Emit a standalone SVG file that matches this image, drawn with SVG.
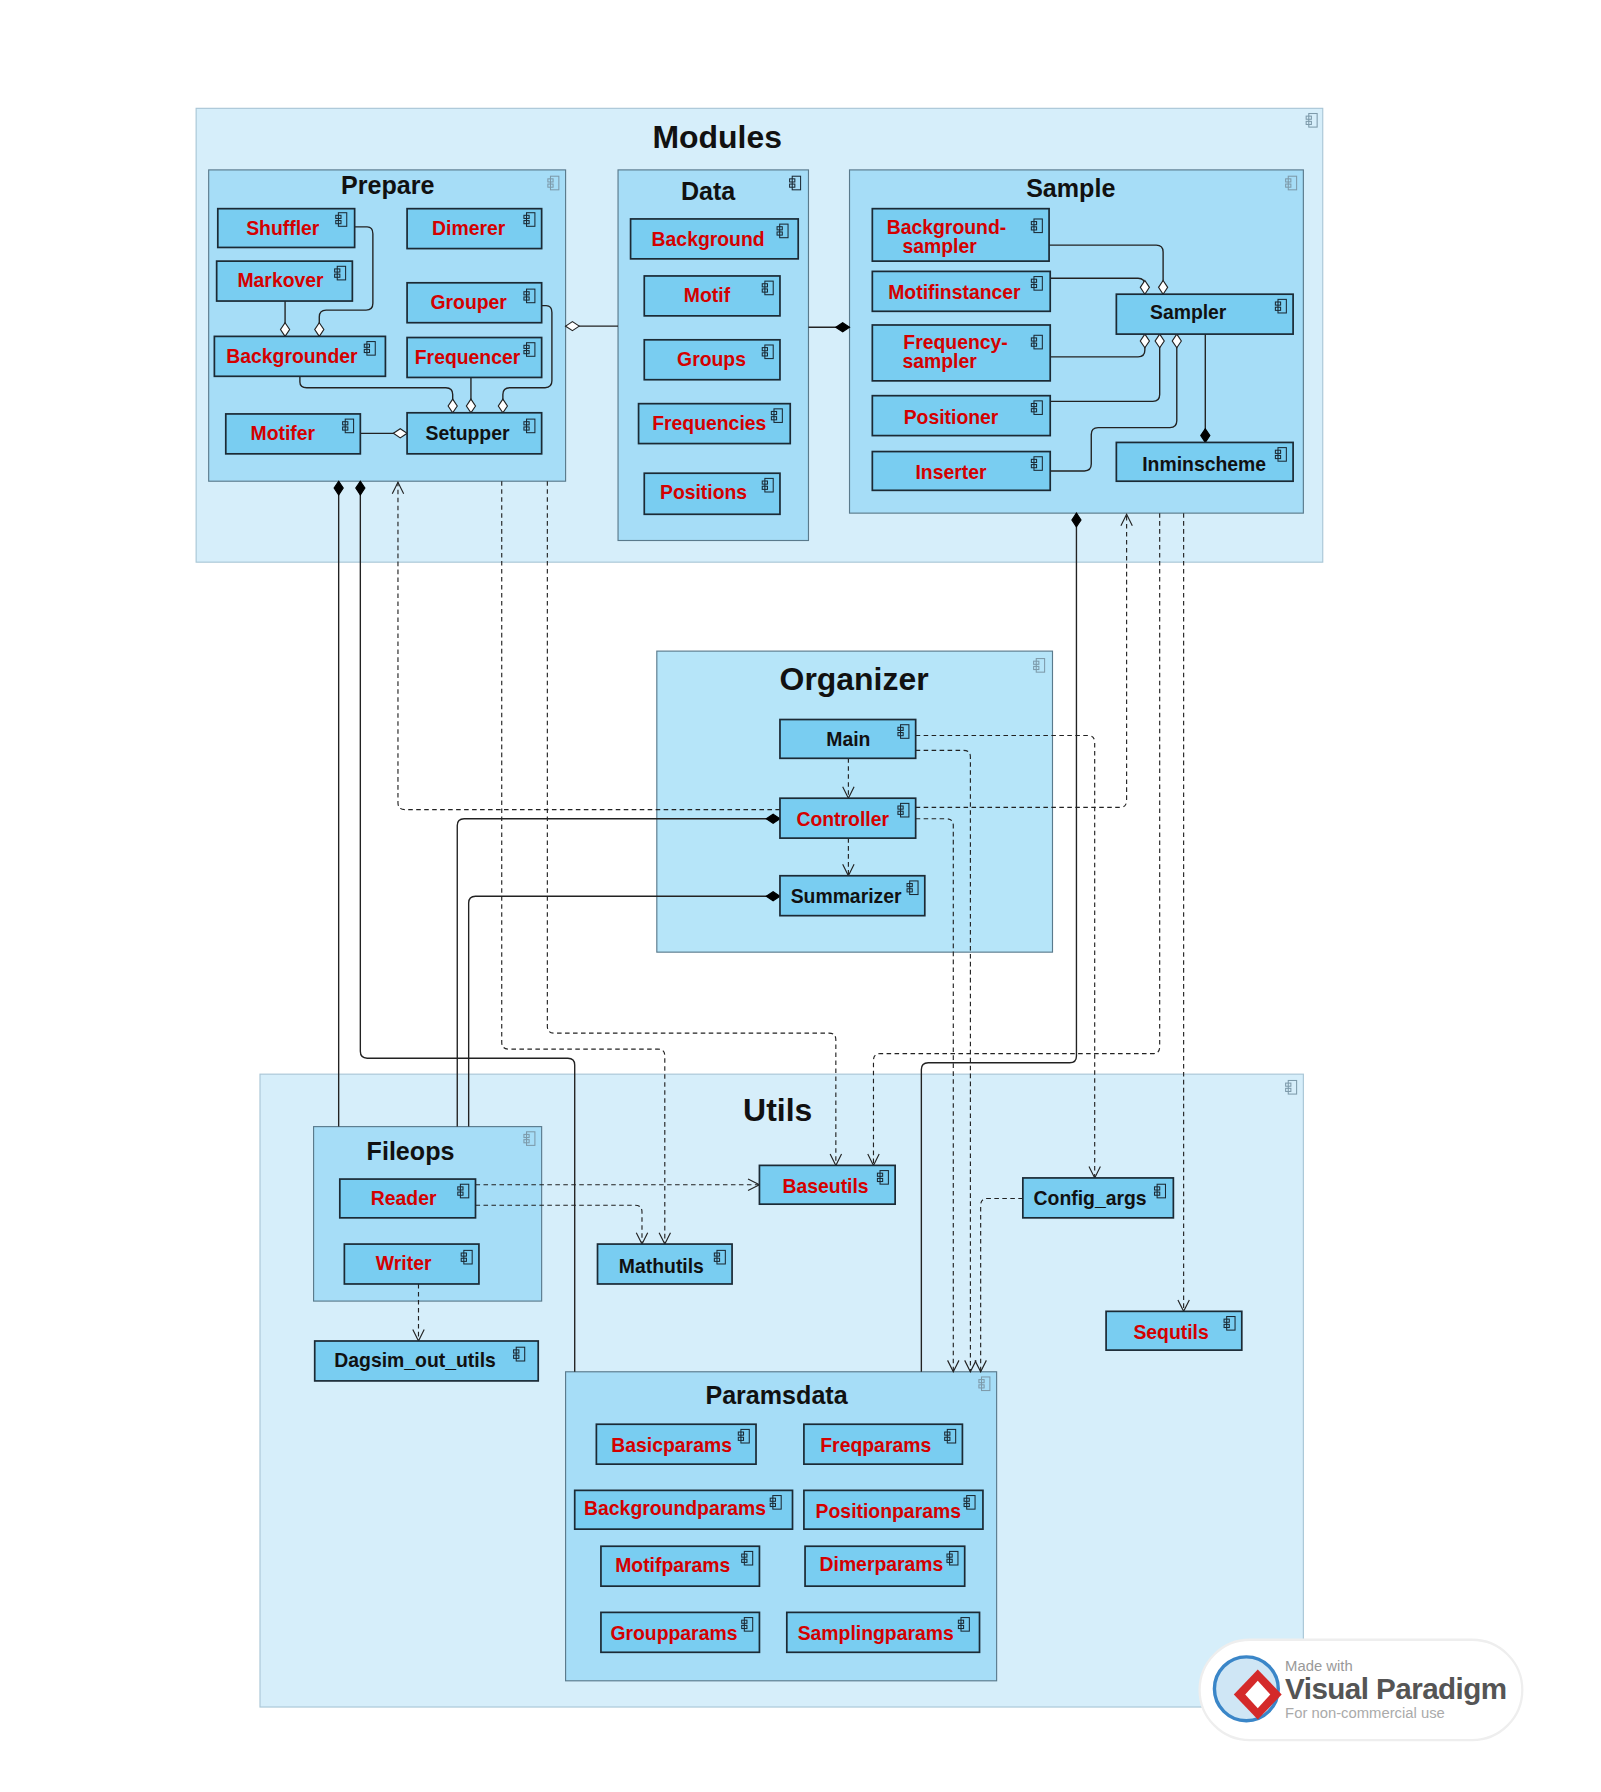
<svg xmlns="http://www.w3.org/2000/svg" width="1601" height="1792" viewBox="0 0 1601 1792">
<style>
.cont{fill:#d6eefa;stroke:#a9c6d6;stroke-width:1}
.pkg{fill:#a6ddf7;stroke:#5a7a8c;stroke-width:1}
.org{fill:#b6e5f9;stroke:#5a7a8c;stroke-width:1}
.n{fill:#79cdf1;stroke:#1b2a35;stroke-width:1.5}
.t{font-family:"Liberation Sans",Arial,sans-serif;font-weight:bold;font-size:17px;text-anchor:middle}
.r{fill:#d40000}
.k{fill:#111}
.h{font-family:"Liberation Sans",Arial,sans-serif;font-weight:bold;text-anchor:middle;fill:#111}
.c{fill:none;stroke:#222;stroke-width:1.2}
.d{fill:none;stroke:#222;stroke-width:1;stroke-dasharray:4,3}
.ic{fill:none;stroke:#1b2a35;stroke-width:1}
.icg{fill:none;stroke:#7d9aaa;stroke-width:1}
</style>
<defs>
<symbol id="i" viewBox="0 0 12 14" overflow="visible"><rect x="3" y="0.5" width="8" height="13" class="ic"/><rect x="0.5" y="3" width="5" height="3" class="ic" fill="#79cdf1"/><rect x="0.5" y="8" width="5" height="3" class="ic" fill="#79cdf1"/></symbol>
<symbol id="ig" viewBox="0 0 12 14" overflow="visible"><rect x="3" y="0.5" width="8" height="13" class="icg"/><rect x="0.5" y="3" width="5" height="3" class="icg"/><rect x="0.5" y="8" width="5" height="3" class="icg"/></symbol>
<marker id="hd" markerUnits="userSpaceOnUse" markerWidth="14" markerHeight="10" refX="13" refY="5" orient="auto"><path d="M1,5 L7,1 L13,5 L7,9 Z" fill="#fff" stroke="#222" stroke-width="1"/></marker>
<marker id="fd" markerUnits="userSpaceOnUse" markerWidth="14" markerHeight="10" refX="13" refY="5" orient="auto"><path d="M1,5 L7,1 L13,5 L7,9 Z" fill="#000" stroke="#000" stroke-width="1"/></marker>
<marker id="ar" markerUnits="userSpaceOnUse" markerWidth="12" markerHeight="12" refX="11" refY="6" orient="auto"><path d="M1,1 L11,6 L1,11" fill="none" stroke="#222" stroke-width="1"/></marker>
</defs>
<rect width="1601" height="1792" fill="#fff"/>
<g transform="scale(1.1403)">
<g id="modules"><rect class="cont" x="172" y="95" width="988" height="398"/><text class="h" x="629" y="130" font-size="28">Modules</text><use href="#ig" x="1145" y="99" width="11" height="13"/></g>
<g id="utils"><rect class="cont" x="228" y="942" width="915" height="555"/><text class="h" x="682" y="983" font-size="28">Utils</text><use href="#ig" x="1127" y="947" width="11" height="13"/></g>
<g id="prepare"><rect class="pkg" x="183" y="149" width="313" height="273"/><text class="h" x="340" y="170" font-size="22">Prepare</text><use href="#ig" x="480" y="154" width="11" height="13"/></g>
<g id="data"><rect class="pkg" x="542" y="149" width="167" height="325"/><text class="h" x="621" y="175" font-size="22">Data</text><use href="#i" x="692" y="154" width="11" height="13"/></g>
<g id="sample"><rect class="pkg" x="745" y="149" width="398" height="301"/><text class="h" x="939" y="173" font-size="22">Sample</text><use href="#ig" x="1127" y="154" width="11" height="13"/></g>
<g id="organizer"><rect class="org" x="576" y="571" width="347" height="264"/><text class="h" x="749" y="605" font-size="28">Organizer</text><use href="#ig" x="906" y="577" width="11" height="13"/></g>
<g id="fileops"><rect class="pkg" x="275" y="988" width="200" height="153"/><text class="h" x="360" y="1017" font-size="22">Fileops</text><use href="#ig" x="459" y="992" width="11" height="13"/></g>
<g id="paramsdata"><rect class="pkg" x="496" y="1203" width="378" height="271"/><text class="h" x="681" y="1231" font-size="22">Paramsdata</text><use href="#ig" x="858" y="1207" width="11" height="13"/></g>

<g id="connectors">
<path class="c" d="M311,199 H322 Q327,199 327,205 V266 Q327,272 321,272 H286 Q280,272 280,278 V295" marker-end="url(#hd)"/>
<path class="c" d="M250,264 V295" marker-end="url(#hd)"/>
<path class="c" d="M263,330 V335 Q263,340 269,340 H391 Q397,340 397,346 V362" marker-end="url(#hd)"/>
<path class="c" d="M413,331 V362" marker-end="url(#hd)"/>
<path class="c" d="M475,268 H479 Q484,268 484,274 V334 Q484,340 478,340 H447 Q441,340 441,346 V362" marker-end="url(#hd)"/>
<path class="c" d="M316,380 H357" marker-end="url(#hd)"/>
<path class="c" d="M542,286 H496" marker-end="url(#hd)"/>
<path class="c" d="M709,287 H745" marker-end="url(#fd)"/>
<path class="c" d="M920,215 H1014 Q1020,215 1020,221 V258" marker-end="url(#hd)"/>
<path class="c" d="M921,244 H998 Q1004,244 1004,250 V258" marker-end="url(#hd)"/>
<path class="c" d="M921,313 H998 Q1004,313 1004,307 V293" marker-end="url(#hd)"/>
<path class="c" d="M921,352 H1011 Q1017,352 1017,346 V293" marker-end="url(#hd)"/>
<path class="c" d="M921,413 H951 Q957,413 957,407 V381 Q957,375 963,375 H1026 Q1032,375 1032,369 V293" marker-end="url(#hd)"/>
<path class="c" d="M1057,293 V388" marker-end="url(#fd)"/>
<path class="c" d="M297,988 V422" marker-end="url(#fd)"/>
<path class="c" d="M504,1203 V934 Q504,928 498,928 H322 Q316,928 316,922 V422" marker-end="url(#fd)"/>
<path class="c" d="M808,1203 V938 Q808,932 814,932 H938 Q944,932 944,926 V450" marker-end="url(#fd)"/>
<path class="c" d="M401,988 V724 Q401,718 407,718 H684" marker-end="url(#fd)"/>
<path class="c" d="M411,988 V792 Q411,786 417,786 H684" marker-end="url(#fd)"/>
<path class="d" d="M684,710 H355 Q349,710 349,704 V423" marker-end="url(#ar)"/>
<path class="d" d="M803,708 H982 Q988,708 988,702 V451" marker-end="url(#ar)"/>
<path class="d" d="M744,665 V700" marker-end="url(#ar)"/>
<path class="d" d="M744,735 V768" marker-end="url(#ar)"/>
<path class="d" d="M803,645 H954 Q960,645 960,651 V1033" marker-end="url(#ar)"/>
<path class="d" d="M803,658 H845 Q851,658 851,664 V1203" marker-end="url(#ar)"/>
<path class="d" d="M803,718 H830 Q836,718 836,724 V1203" marker-end="url(#ar)"/>
<path class="d" d="M440,422 V914 Q440,920 446,920 H577 Q583,920 583,926 V1091" marker-end="url(#ar)"/>
<path class="d" d="M480,422 V900 Q480,906 486,906 H727 Q733,906 733,912 V1022" marker-end="url(#ar)"/>
<path class="d" d="M1017,450 V918 Q1017,924 1011,924 H772 Q766,924 766,930 V1022" marker-end="url(#ar)"/>
<path class="d" d="M1038,450 V1150" marker-end="url(#ar)"/>
<path class="d" d="M897,1051 H866 Q860,1051 860,1057 V1203" marker-end="url(#ar)"/>
<path class="d" d="M417,1039 H666" marker-end="url(#ar)"/>
<path class="d" d="M417,1057 H557 Q563,1057 563,1063 V1091" marker-end="url(#ar)"/>
<path class="d" d="M367,1126 V1176" marker-end="url(#ar)"/>
</g>

<g id="shuffler"><rect class="n" x="191" y="183" width="120" height="34"/><text class="t r" x="248" y="206">Shuffler</text><use href="#i" x="294" y="186" width="11" height="13"/></g>
<g id="dimerer"><rect class="n" x="357" y="183" width="118" height="35"/><text class="t r" x="411" y="206">Dimerer</text><use href="#i" x="459" y="186" width="11" height="13"/></g>
<g id="markover"><rect class="n" x="190" y="229" width="119" height="35"/><text class="t r" x="246" y="252">Markover</text><use href="#i" x="293" y="233" width="11" height="13"/></g>
<g id="grouper"><rect class="n" x="357" y="248" width="118" height="35"/><text class="t r" x="411" y="271">Grouper</text><use href="#i" x="459" y="253" width="11" height="13"/></g>
<g id="backgrounder"><rect class="n" x="188" y="295" width="150" height="35"/><text class="t r" x="256" y="318">Backgrounder</text><use href="#i" x="319" y="299" width="11" height="13"/></g>
<g id="frequencer"><rect class="n" x="357" y="296" width="118" height="35"/><text class="t r" x="410" y="319">Frequencer</text><use href="#i" x="459" y="300" width="11" height="13"/></g>
<g id="motifer"><rect class="n" x="198" y="363" width="118" height="35"/><text class="t r" x="248" y="386">Motifer</text><use href="#i" x="300" y="367" width="11" height="13"/></g>
<g id="setupper"><rect class="n" x="357" y="362" width="118" height="36"/><text class="t k" x="410" y="386">Setupper</text><use href="#i" x="459" y="367" width="11" height="13"/></g>

<g id="background"><rect class="n" x="553" y="192" width="147" height="35"/><text class="t r" x="621" y="216">Background</text><use href="#i" x="681" y="196" width="11" height="13"/></g>
<g id="motif"><rect class="n" x="565" y="242" width="119" height="35"/><text class="t r" x="620" y="265">Motif</text><use href="#i" x="668" y="246" width="11" height="13"/></g>
<g id="groups"><rect class="n" x="565" y="298" width="119" height="35"/><text class="t r" x="624" y="321">Groups</text><use href="#i" x="668" y="302" width="11" height="13"/></g>
<g id="frequencies"><rect class="n" x="560" y="354" width="133" height="35"/><text class="t r" x="622" y="377">Frequencies</text><use href="#i" x="676" y="358" width="11" height="13"/></g>
<g id="positions"><rect class="n" x="565" y="415" width="119" height="36"/><text class="t r" x="617" y="438">Positions</text><use href="#i" x="668" y="419" width="11" height="13"/></g>

<g id="backgroundsampler"><rect class="n" x="765" y="183" width="155" height="46"/><text class="t r" x="830" y="205">Background-</text><text class="t r" x="824" y="222">sampler</text><use href="#i" x="904" y="190" width="11" height="16"/></g>
<g id="motifinstancer"><rect class="n" x="765" y="238" width="156" height="35"/><text class="t r" x="837" y="262">Motifinstancer</text><use href="#i" x="904" y="242" width="11" height="13"/></g>
<g id="sampler"><rect class="n" x="979" y="258" width="155" height="35"/><text class="t k" x="1042" y="280">Sampler</text><use href="#i" x="1118" y="262" width="11" height="13"/></g>
<g id="frequencysampler"><rect class="n" x="765" y="285" width="156" height="49"/><text class="t r" x="838" y="306">Frequency-</text><text class="t r" x="824" y="323">sampler</text><use href="#i" x="904" y="292" width="11" height="16"/></g>
<g id="positioner"><rect class="n" x="765" y="347" width="156" height="35"/><text class="t r" x="834" y="372">Positioner</text><use href="#i" x="904" y="351" width="11" height="13"/></g>
<g id="inserter"><rect class="n" x="765" y="396" width="156" height="34"/><text class="t r" x="834" y="420">Inserter</text><use href="#i" x="904" y="400" width="11" height="13"/></g>
<g id="inminscheme"><rect class="n" x="979" y="388" width="155" height="34"/><text class="t k" x="1056" y="413">Inminscheme</text><use href="#i" x="1118" y="392" width="11" height="13"/></g>

<g id="main"><rect class="n" x="684" y="631" width="119" height="34"/><text class="t k" x="744" y="654">Main</text><use href="#i" x="787" y="635" width="11" height="13"/></g>
<g id="controller"><rect class="n" x="684" y="700" width="119" height="35"/><text class="t r" x="739" y="724">Controller</text><use href="#i" x="787" y="704" width="11" height="13"/></g>
<g id="summarizer"><rect class="n" x="684" y="768" width="127" height="35"/><text class="t k" x="742" y="792">Summarizer</text><use href="#i" x="795" y="772" width="11" height="13"/></g>

<g id="reader"><rect class="n" x="298" y="1034" width="119" height="34"/><text class="t r" x="354" y="1057">Reader</text><use href="#i" x="401" y="1038" width="11" height="13"/></g>
<g id="writer"><rect class="n" x="302" y="1091" width="118" height="35"/><text class="t r" x="354" y="1114">Writer</text><use href="#i" x="404" y="1096" width="11" height="13"/></g>
<g id="dagsim"><rect class="n" x="276" y="1176" width="196" height="35"/><text class="t k" x="364" y="1199">Dagsim_out_utils</text><use href="#i" x="447" y="1181" width="17" height="13"/></g>
<g id="mathutils"><rect class="n" x="524" y="1091" width="118" height="35"/><text class="t k" x="580" y="1116">Mathutils</text><use href="#i" x="626" y="1096" width="11" height="13"/></g>
<g id="baseutils"><rect class="n" x="666" y="1022" width="119" height="34"/><text class="t r" x="724" y="1046">Baseutils</text><use href="#i" x="769" y="1026" width="11" height="13"/></g>
<g id="configargs"><rect class="n" x="897" y="1033" width="132" height="35"/><text class="t k" x="956" y="1057">Config_args</text><use href="#i" x="1012" y="1038" width="11" height="13"/></g>
<g id="sequtils"><rect class="n" x="970" y="1150" width="119" height="34"/><text class="t r" x="1027" y="1174">Sequtils</text><use href="#i" x="1073" y="1154" width="11" height="13"/></g>

<g id="basicparams"><rect class="n" x="523" y="1249" width="140" height="35"/><text class="t r" x="589" y="1273">Basicparams</text><use href="#i" x="647" y="1253" width="11" height="13"/></g>
<g id="freqparams"><rect class="n" x="705" y="1249" width="139" height="35"/><text class="t r" x="768" y="1273">Freqparams</text><use href="#i" x="828" y="1253" width="11" height="13"/></g>
<g id="backgroundparams"><rect class="n" x="504" y="1307" width="191" height="34"/><text class="t r" x="592" y="1329">Backgroundparams</text><use href="#i" x="675" y="1311" width="11" height="13"/></g>
<g id="positionparams"><rect class="n" x="705" y="1307" width="157" height="34"/><text class="t r" x="779" y="1331">Positionparams</text><use href="#i" x="845" y="1311" width="11" height="13"/></g>
<g id="motifparams"><rect class="n" x="527" y="1356" width="139" height="35"/><text class="t r" x="590" y="1379">Motifparams</text><use href="#i" x="650" y="1360" width="11" height="13"/></g>
<g id="dimerparams"><rect class="n" x="706" y="1356" width="140" height="35"/><text class="t r" x="773" y="1378">Dimerparams</text><use href="#i" x="830" y="1360" width="11" height="13"/></g>
<g id="groupparams"><rect class="n" x="527" y="1414" width="139" height="35"/><text class="t r" x="591" y="1438">Groupparams</text><use href="#i" x="650" y="1418" width="11" height="13"/></g>
<g id="samplingparams"><rect class="n" x="690" y="1414" width="169" height="35"/><text class="t r" x="768" y="1438">Samplingparams</text><use href="#i" x="840" y="1418" width="11" height="13"/></g>

<g id="watermark">
<rect x="1052" y="1438" width="283" height="88" rx="44" fill="#fff" stroke="#eee" stroke-width="2"/>
<circle cx="1093" cy="1481" r="28" fill="#cfe6f5" stroke="#3a86c8" stroke-width="3"/>
<path d="M1103,1464 L1124,1486 L1103,1508 L1082,1486 Z" fill="#d42a2a"/>
<path d="M1103,1474 L1114,1486 L1103,1498 L1092,1486 Z" fill="#fff"/>
<text x="1127" y="1465" font-family="Liberation Sans,Arial,sans-serif" font-size="13" fill="#999">Made with</text>
<text x="1127" y="1490" font-family="Liberation Sans,Arial,sans-serif" font-size="26" font-weight="bold" fill="#555" letter-spacing="-0.5">Visual Paradigm</text>
<text x="1127" y="1507" font-family="Liberation Sans,Arial,sans-serif" font-size="13" fill="#aaa">For non-commercial use</text>
</g>
</g>
</svg>
